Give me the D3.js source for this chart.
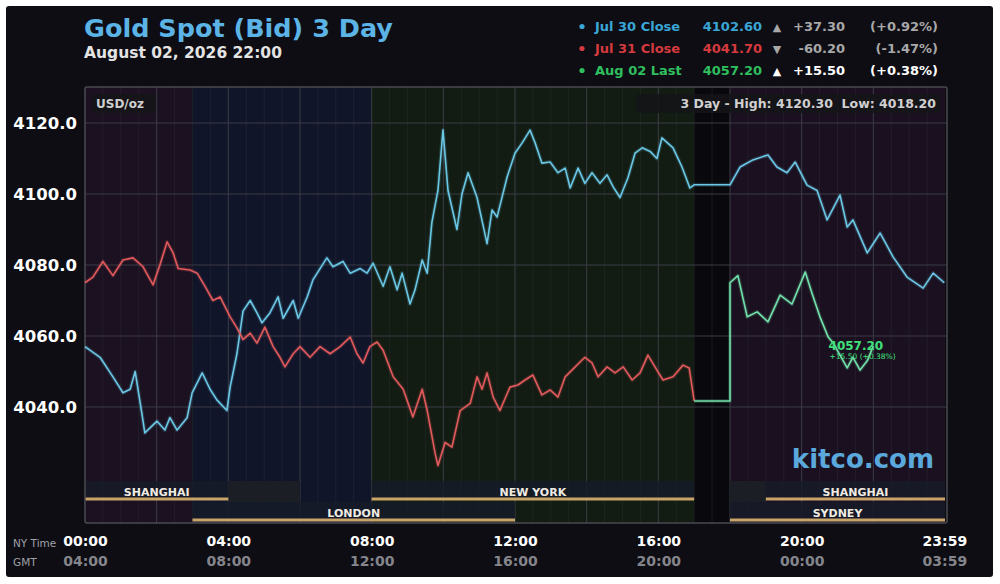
<!DOCTYPE html>
<html>
<head>
<meta charset="utf-8">
<script src="https://cdn.jsdelivr.net/npm/d3@7/dist/d3.min.js"></script>
<style>
  html, body { margin: 0; padding: 0; background: #ffffff; }
  svg { display: block; font-family: "DejaVu Sans", Verdana, sans-serif; }
</style>
</head>
<body>
<svg id="chart" width="1000" height="584"></svg>
<script>
// ---------------- DATA ----------------
const yTicks = [4040, 4060, 4080, 4100, 4120];
const xTickHours = [0, 4, 8, 12, 16, 20, 23.983];
const xTickNY = ["00:00", "04:00", "08:00", "12:00", "16:00", "20:00", "23:59"];
const xTickGMT = ["04:00", "08:00", "12:00", "16:00", "20:00", "00:00", "03:59"];

// Jul 30 (cyan)
const hoursJul30 = [0,0.42,0.78,1.06,1.26,1.40,1.59,1.67,2.01,2.23,2.37,2.57,2.85,2.99,3.27,3.49,3.68,3.96,4.05,4.24,4.41,4.61,4.80,4.94,5.16,5.39,5.53,5.81,5.95,6.20,6.36,6.75,6.92,7.20,7.40,7.68,7.87,8.04,8.32,8.51,8.71,8.85,9.07,9.21,9.41,9.55,9.68,9.85,9.99,10.13,10.38,10.52,10.69,10.94,11.22,11.36,11.50,11.78,12.00,12.20,12.42,12.56,12.75,12.98,13.20,13.40,13.54,13.76,13.95,14.15,14.37,14.57,14.74,14.93,15.15,15.35,15.55,15.77,15.96,16.10,16.41,16.66,16.88,17.0,18.0,18.28,18.64,19.06,19.31,19.59,19.82,20.15,20.43,20.71,21.07,21.27,21.43,21.83,22.19,22.55,22.94,23.39,23.67,23.98];
const valuesJul30 = [4057,4054,4048.5,4044,4045,4050,4038,4032.7,4036,4033.5,4037,4033.5,4037,4044,4049.6,4045,4042,4039,4045.6,4055,4067,4070,4066.5,4063.7,4066.5,4071,4065,4070,4065,4071,4075.8,4082,4079.5,4081,4077.7,4079,4077.7,4080.5,4074,4079.5,4073,4077.7,4069,4073,4081.4,4077.7,4092,4101,4118,4101,4090,4100,4106,4099,4086,4095.5,4093.5,4104.8,4111.5,4114.4,4118,4114.4,4108.7,4109,4106,4107.3,4101.7,4107.3,4103,4106,4103,4105.4,4102,4099,4104.5,4111.5,4113,4112,4110,4115.8,4113,4107.6,4101.7,4102.6,4102.6,4107.6,4109.6,4111,4107.6,4106,4109,4102.5,4101,4092.7,4099.7,4090.7,4092.7,4083.4,4089,4082.3,4076.6,4073.5,4077.7,4075];

// Jul 31 (red)
const hoursJul31 = [0,0.22,0.50,0.78,1.06,1.34,1.62,1.90,2.09,2.29,2.46,2.60,2.93,3.13,3.35,3.57,3.77,4.05,4.24,4.41,4.61,4.80,5.02,5.25,5.44,5.58,5.81,6.00,6.28,6.56,6.84,7.12,7.40,7.59,7.76,7.95,8.15,8.32,8.60,8.88,9.15,9.41,9.55,9.77,9.85,10.05,10.24,10.47,10.75,10.94,11.08,11.22,11.39,11.58,11.86,12.08,12.28,12.50,12.75,12.98,13.20,13.40,13.68,13.95,14.15,14.32,14.57,14.79,15.02,15.27,15.49,15.71,15.96,16.13,16.41,16.69,16.86,17.0];
const valuesJul31 = [4075,4076.6,4081,4077,4081.4,4082,4079.5,4074.4,4080,4086.5,4083.4,4079,4078.6,4077.7,4074,4070,4071,4065.4,4062.3,4059,4060.8,4058,4062.5,4057,4054,4051.3,4055,4057,4054,4057,4055,4057,4059.7,4055,4052.4,4057,4058.3,4056,4048.5,4045,4037.2,4045,4039,4027,4023.5,4030,4028.7,4039,4041,4048.5,4045,4049.6,4042.8,4039,4045.6,4046.2,4047.6,4049,4043.4,4044.8,4042.8,4048.5,4051.3,4054,4052.4,4048.5,4051.3,4049.6,4051.3,4047.6,4049.6,4054.6,4050.4,4047.6,4048.5,4051.8,4051,4041.7];

// Aug 02 (green)
const hoursAug02 = [17.0,18.0,18.0,18.22,18.48,18.76,19.06,19.40,19.73,20.10,20.29,20.51,20.74,20.88,21.27,21.43,21.63,21.83,22.0];
const valuesAug02 = [4041.7,4041.7,4075,4077,4065.4,4066.8,4064,4071.5,4069,4078,4072,4065.4,4059.7,4058,4051,4054,4050.4,4053,4057.2];

// Legend
const legendLabels = ["Jul 30 Close", "Jul 31 Close", "Aug 02 Last"];
const legendValues = ["4102.60", "4041.70", "4057.20"];
const legendArrows = ["▲", "▼", "▲"];
const legendChanges = ["+37.30", "-60.20", "+15.50"];
const legendPcts = ["(+0.92%)", "(-1.47%)", "(+0.38%)"];

// Sessions (hours NY time)
const sessionNames = ["SHANGHAI", "NEW YORK", "SHANGHAI", "LONDON", "SYDNEY"];
const sessionStart = [0, 8, 19, 3, 18];
const sessionEnd = [4, 17, 24, 12, 24];
const sessionRow = [0, 0, 0, 1, 1];
const breakStart = [4, 18];
const breakEnd = [6, 19];

// Background zones
const zoneStart = [0, 3, 8, 17, 18];
const zoneEnd = [3, 8, 17, 18, 24];

// ---------------- STYLE / LAYOUT ----------------
const zoneColors = ["#1b1120", "#10152a", "#121c12", "#09090d", "#1b1020"];
const seriesColors = ["#6ac8e6", "#e25a5c", "#72e2ac"];
const legendColors = ["#3aa6d6", "#d63a3e", "#2fbf5e"];
const plot = { left: 85, right: 947, top: 87, bottom: 523 };

const svg = d3.select("#chart");
const x = d3.scaleLinear().domain([0, 24]).range([85, 945]);
const y = d3.scaleLinear().domain([4040, 4120]).range([407, 123]);

// Outer dark panel
svg.append("rect").attr("x", 6).attr("y", 6).attr("width", 987).attr("height", 571)
  .attr("rx", 3).attr("fill", "#0d0d13");

// Zones
svg.append("g").selectAll("rect").data(zoneStart).join("rect")
  .attr("x", (d) => x(d))
  .attr("width", (d, i) => x(zoneEnd[i]) - x(d))
  .attr("y", plot.top).attr("height", plot.bottom - plot.top)
  .attr("fill", (d, i) => zoneColors[i]);

// Minor vertical grid (30 min)
const minor = d3.range(0, 24.01, 0.5).filter(h => h % 2 !== 0);
svg.append("g").selectAll("line").data(minor).join("line")
  .attr("x1", d => x(d)).attr("x2", d => x(d))
  .attr("y1", plot.top).attr("y2", plot.bottom)
  .attr("stroke", "#2c2c34").attr("stroke-width", 0.7).attr("opacity", 0.7);

// Major vertical grid (2 h)
const major = d3.range(2, 24, 2);
svg.append("g").selectAll("line").data(major).join("line")
  .attr("x1", d => x(d)).attr("x2", d => x(d))
  .attr("y1", plot.top).attr("y2", plot.bottom)
  .attr("stroke", "#3c3c46").attr("stroke-width", 1);

// Horizontal grid
svg.append("g").selectAll("line").data(yTicks).join("line")
  .attr("x1", plot.left).attr("x2", plot.right)
  .attr("y1", d => y(d)).attr("y2", d => y(d))
  .attr("stroke", "#3a3a44").attr("stroke-width", 1);

// Session rows
const rowTop = [481, 502];
const rowLine = [499, 520];
const rowText = [496, 517];
const sess = svg.append("g");
sess.selectAll("rect.brk").data(breakStart).join("rect").attr("class", "brk")
  .attr("x", d => x(d)).attr("width", (d, i) => x(breakEnd[i]) - x(d))
  .attr("y", 481).attr("height", 21).attr("fill", "#1c1e26");
sess.selectAll("rect.band").data(sessionNames).join("rect").attr("class", "band")
  .attr("x", (d, i) => x(sessionStart[i]))
  .attr("width", (d, i) => x(sessionEnd[i]) - x(sessionStart[i]))
  .attr("y", (d, i) => rowTop[sessionRow[i]])
  .attr("height", (d, i) => rowLine[sessionRow[i]] - rowTop[sessionRow[i]])
  .attr("fill", "#161b28").attr("opacity", 0.85);
sess.selectAll("line.gold").data(sessionNames).join("line").attr("class", "gold")
  .attr("x1", (d, i) => x(sessionStart[i])).attr("x2", (d, i) => x(sessionEnd[i]))
  .attr("y1", (d, i) => rowLine[sessionRow[i]]).attr("y2", (d, i) => rowLine[sessionRow[i]])
  .attr("stroke", "#c9a468").attr("stroke-width", 3);
sess.selectAll("text").data(sessionNames).join("text")
  .attr("x", (d, i) => (x(sessionStart[i]) + x(sessionEnd[i])) / 2)
  .attr("y", (d, i) => rowText[sessionRow[i]])
  .attr("text-anchor", "middle").attr("fill", "#f0ece4")
  .attr("font-size", 11).attr("font-weight", "bold")
  .text(d => d);

// Plot frame
svg.append("rect").attr("x", plot.left).attr("y", plot.top)
  .attr("width", plot.right - plot.left).attr("height", plot.bottom - plot.top)
  .attr("fill", "none").attr("stroke", "#4a4a52").attr("stroke-width", 1.5).attr("rx", 2);

// Series
const line = d3.line().x(d => x(d[0])).y(d => y(d[1]));
const seriesList = [
  d3.zip(hoursJul30, valuesJul30),
  d3.zip(hoursJul31, valuesJul31),
  d3.zip(hoursAug02, valuesAug02)
];
const gS = svg.append("g");
seriesList.forEach((s, i) => {
  gS.append("path").datum(s).attr("d", line).attr("fill", "none")
    .attr("stroke", seriesColors[i]).attr("stroke-width", 4).attr("opacity", 0.18)
    .attr("stroke-linejoin", "round");
  gS.append("path").datum(s).attr("d", line).attr("fill", "none")
    .attr("stroke", seriesColors[i]).attr("stroke-width", 1.6)
    .attr("stroke-linejoin", "round");
});

// Last price label
const lastH = 20.75, lastV = valuesAug02[valuesAug02.length - 1];
svg.append("text").attr("x", x(lastH)).attr("y", y(lastV) + 4)
  .attr("fill", "#3fe07a").attr("font-size", 12).attr("font-weight", "bold")
  .text(legendValues[2]);
svg.append("text").attr("x", x(lastH) + 1).attr("y", y(lastV) + 13)
  .attr("fill", "#3fe07a").attr("font-size", 7.5)
  .text(legendChanges[2] + " " + legendPcts[2]);

// Y axis
const yAxis = svg.append("g").attr("transform", `translate(${plot.left},0)`)
  .call(d3.axisLeft(y).tickValues(yTicks).tickFormat(d3.format(".1f")).tickSize(0).tickPadding(8));
yAxis.select(".domain").remove();
yAxis.selectAll("text").attr("fill", "#ffffff").attr("font-size", 16.5)
  .attr("font-weight", "bold").attr("font-family", "DejaVu Sans");

// X axes
const xAxis = svg.append("g").attr("transform", "translate(0,528)")
  .call(d3.axisBottom(x).tickValues(xTickHours).tickFormat((d, i) => xTickNY[i]).tickSize(0).tickPadding(8));
xAxis.select(".domain").remove();
xAxis.selectAll("text").attr("fill", "#ffffff").attr("font-size", 14)
  .attr("font-weight", "bold").attr("font-family", "DejaVu Sans");
const gAxis = svg.append("g").attr("transform", "translate(0,548)")
  .call(d3.axisBottom(x).tickValues(xTickHours).tickFormat((d, i) => xTickGMT[i]).tickSize(0).tickPadding(8));
gAxis.select(".domain").remove();
gAxis.selectAll("text").attr("fill", "#85858c").attr("font-size", 14)
  .attr("font-weight", "bold").attr("font-family", "DejaVu Sans");

svg.append("text").attr("x", 13).attr("y", 547).attr("fill", "#a0a0a8").attr("font-size", 10.5).text("NY Time");
svg.append("text").attr("x", 13).attr("y", 566).attr("fill", "#a0a0a8").attr("font-size", 10.5).text("GMT");

// Title
svg.append("text").attr("x", 84).attr("y", 37).attr("fill", "#5cb4e6")
  .attr("font-size", 25.5).attr("font-weight", "bold").text("Gold Spot (Bid) 3 Day");
svg.append("text").attr("x", 84).attr("y", 58).attr("fill", "#e4e4e4")
  .attr("font-size", 15.5).attr("font-weight", "bold").text("August 02, 2026 22:00");

// Legend
const legY = [31, 53, 75];
const leg = svg.append("g").attr("font-size", 13).attr("font-weight", "bold");
legendLabels.forEach((lab, i) => {
  leg.append("circle").attr("cx", 582).attr("cy", legY[i] - 4.5).attr("r", 2.6).attr("fill", legendColors[i]);
  leg.append("text").attr("x", 595).attr("y", legY[i]).attr("fill", legendColors[i]).text(lab);
  leg.append("text").attr("x", 762).attr("y", legY[i]).attr("text-anchor", "end").attr("fill", legendColors[i]).text(legendValues[i]);
  leg.append("text").attr("x", 777).attr("y", legY[i]).attr("text-anchor", "middle")
    .attr("fill", i === 2 ? "#ffffff" : "#a8a8a8").attr("font-size", 11).text(legendArrows[i]);
  leg.append("text").attr("x", 845).attr("y", legY[i]).attr("text-anchor", "end")
    .attr("fill", i === 2 ? "#ffffff" : "#a8a8a8").text(legendChanges[i]);
  leg.append("text").attr("x", 938).attr("y", legY[i]).attr("text-anchor", "end")
    .attr("fill", i === 2 ? "#ffffff" : "#a8a8a8").text(legendPcts[i]);
});

// Plot labels
svg.append("rect").attr("x", 92).attr("y", 94).attr("width", 64).attr("height", 19).attr("fill", "#151518").attr("opacity", 0.9);
svg.append("text").attr("x", 96).attr("y", 108).attr("fill", "#d0d0d0")
  .attr("font-size", 12).attr("font-weight", "bold").text("USD/oz");
svg.append("rect").attr("x", 636).attr("y", 94).attr("width", 304).attr("height", 19).attr("fill", "#151518").attr("opacity", 0.9);
svg.append("text").attr("x", 936).attr("y", 108).attr("text-anchor", "end").attr("fill", "#d0d0d0")
  .attr("font-size", 12.5).attr("font-weight", "bold").attr("xml:space", "preserve")
  .text("3 Day - High: 4120.30  Low: 4018.20");

// Watermark
svg.append("text").attr("x", 934).attr("y", 468).attr("text-anchor", "end").attr("fill", "#5aa8dc")
  .attr("font-size", 26).attr("font-weight", "bold").text("kitco.com");
</script>
</body>
</html>
